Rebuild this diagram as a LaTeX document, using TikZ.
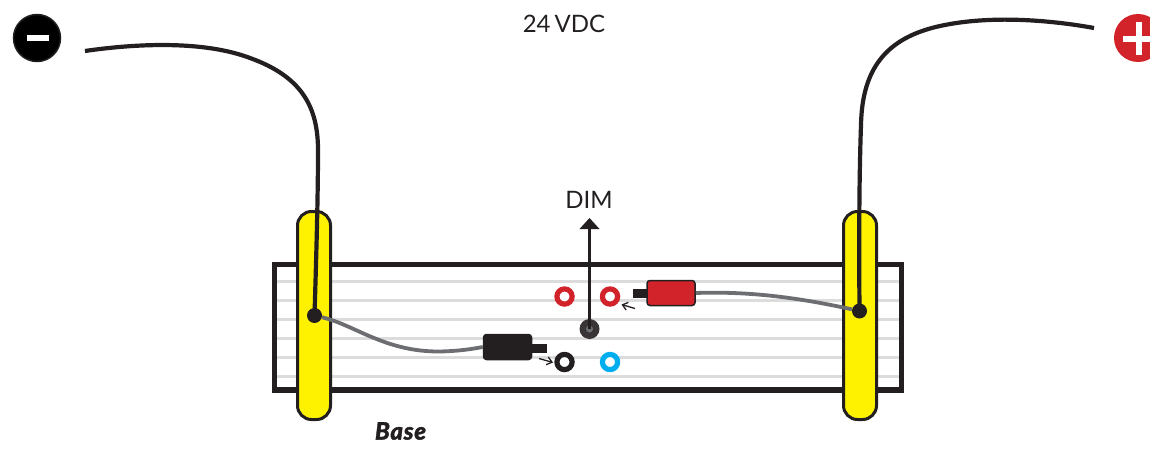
\documentclass[tikz,border=0pt]{standalone}
\usepackage{fontspec}
\setmainfont{Lato}
\newfontfamily\basefont[FakeBold=1.5,LetterSpace=3]{Lato Black Italic}
\usetikzlibrary{arrows.meta}
\definecolor{ink}{HTML}{231F20}
\definecolor{wirey}{HTML}{6D6E71}
\definecolor{railgrey}{HTML}{DCDCDC}
\definecolor{redc}{HTML}{D2232A}
\definecolor{bluec}{HTML}{00AEEF}
\definecolor{yellowc}{HTML}{FFF200}
\tikzset{
  x=1pt,y=-1pt,
  rail/.style={railgrey,line width=3pt},
  clamp/.style={draw=ink,fill=yellowc,line width=3pt,rounded corners=14pt},
  ring/.style={circle,draw=#1,fill=white,line width=5.2pt,minimum size=15.2pt,inner sep=0pt},
  dot/.style={circle,fill=ink,minimum size=15pt,inner sep=0pt},
  bigwire/.style={ink,line width=4.2pt},
  thinwire/.style={wirey,line width=3.8pt},
  plugbody/.style={rounded corners=3pt,draw=ink,line width=1.5pt,minimum width=48pt,minimum height=25pt,inner sep=0pt},
  plugstub/.style={fill=ink,inner sep=0pt},
  lab/.style={text=ink,font=\fontsize{24}{28}\selectfont,inner sep=0pt},
  pointer/.style={ink,line width=1.3pt,-{Straight Barb[length=5pt,width=8pt]}},
}
\begin{document}
\begin{tikzpicture}
\useasboundingbox (0,0) rectangle (1150,450);
\clip (0,0) rectangle (1150,450);
% terminals
\node[circle,fill=black,draw=ink,line width=1.5pt,minimum size=47pt,inner sep=0pt] (minus) at (37,38) {};
\fill[white] (27,35) rectangle (49,41);
\node[circle,fill=redc,minimum size=48pt,inner sep=0pt] (plus) at (1138,38) {};
\fill[white] (1123,36) rectangle (1153,42);
\fill[white] (1136,22) rectangle (1142,55);
% texts
\node[lab] (vdc) at (564,24) {24\,VDC};
\node[lab] (dim) at (589,200) {DIM};
\node[text=ink,font=\fontsize{24}{28}\selectfont\basefont,inner sep=0pt] (base) at (400.5,431) {Base};
% base
\foreach \yy in {281,300,319,338,357,376}
  \draw[rail] (277,\yy) -- (899,\yy);
\draw[ink,line width=5.5pt] (274.5,264.5) rectangle (901.5,390);
% clamps
\draw[clamp] (297.5,211.5) rectangle (330.5,419.5);
\draw[clamp] (843.5,211.5) rectangle (876.5,419.5);
% dots
\node[dot] (dotl) at (314.5,315.5) {};
\node[dot] (dotr) at (859.5,311) {};
% sockets
\node[ring=redc] (r1) at (564.5,296.5) {};
\node[ring=redc] (r2) at (610,296.5) {};
\node[ring=ink] (k1) at (564.5,362) {};
\node[ring=bluec] (b1) at (610,362) {};
\node[circle,fill=ink!90,minimum size=20pt,inner sep=0pt] (jack) at (589.5,329) {};
\node[circle,fill=wirey,minimum size=7pt,inner sep=0pt] at (jack) {};
% plugs
\node[plugstub,minimum width=15pt,minimum height=9pt] (kstub) at (539.5,348.5) {};
\node[plugbody,fill=ink] (kplug) at (507.5,347) {};
\node[plugstub,minimum width=15pt,minimum height=9pt] (rstub) at (640,293) {};
\node[plugbody,fill=redc] (rplug) at (671,293) {};
% wires
\draw[thinwire] (dotl) .. controls (355,325) and (385,352) .. (440,351.5) .. controls (460,351) and (472,349) .. (kplug.west);
\draw[thinwire] (rplug.east) .. controls (750,291) and (800,298) .. (dotr);
\coordinate (lfree) at (85,51);
\coordinate (rfree) at (1094,28);
\draw[bigwire] (lfree) .. controls (140,43) and (205,41) .. (250,58) .. controls (300,76) and (318,105) .. (318,150) .. controls (318,200) and (316,265) .. (dotl.center);
\draw[bigwire] (rfree) .. controls (1050,20) and (990,15) .. (940,26) .. controls (885,38) and (862,70) .. (861,125) .. controls (859,180) and (859,250) .. (dotr.center);
% DIM arrow
\draw[ink,line width=2.8pt] (jack.center) -- (589.5,226);
\fill[ink] (589.5,218) -- (599.5,229) -- (579.5,229) -- cycle;
% pointers
\coordinate (ptk) at (539,358.5);
\coordinate (ptr) at (635,308.5);
\draw[pointer] (ptk) -- (553,362.5);
\draw[pointer] (ptr) -- (621.5,304.5);
\end{tikzpicture}
\end{document}
